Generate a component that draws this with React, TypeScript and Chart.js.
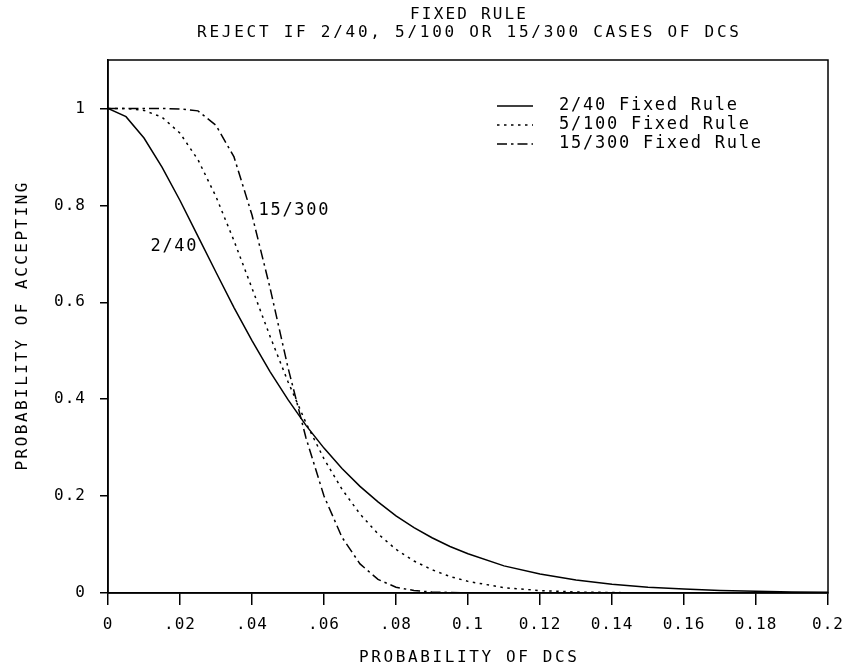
import React, { useEffect, useRef } from "react";
import { Chart, registerables } from "chart.js";

Chart.register(...registerables);

// ---- data ----
const pDcs = [
  0, 0.005, 0.01, 0.015, 0.02, 0.025, 0.03, 0.035, 0.04, 0.045, 0.05, 0.055, 0.06,
  0.065, 0.07, 0.075, 0.08, 0.085, 0.09, 0.095, 0.1, 0.11, 0.12, 0.13, 0.14, 0.15,
  0.16, 0.17, 0.18, 0.19, 0.2,
];
const accept2of40 = [
  1, 0.983, 0.939, 0.879, 0.81, 0.736, 0.662, 0.589, 0.521, 0.457, 0.399, 0.346, 0.299,
  0.257, 0.22, 0.188, 0.159, 0.135, 0.114, 0.096, 0.081, 0.056, 0.039, 0.027, 0.018,
  0.012, 0.008, 0.005, 0.0035, 0.002, 0.0015,
];
const accept5of100 = [
  1, 1, 0.996, 0.982, 0.949, 0.894, 0.818, 0.727, 0.629, 0.53, 0.436, 0.351, 0.277,
  0.214, 0.163, 0.122, 0.09, 0.066, 0.048, 0.034, 0.024, 0.011, 0.005, 0.002, 0.001,
  0, 0, 0, 0, 0, 0,
];
const accept15of300 = [
  1, 1, 1, 1, 0.999, 0.995, 0.965, 0.9, 0.78, 0.63, 0.465, 0.32, 0.2, 0.115, 0.06,
  0.028, 0.012, 0.005, 0.002, 0.001, 0, 0, 0, 0, 0, 0, 0, 0, 0, 0, 0,
];
const seriesNames = ["2/40 Fixed Rule", "5/100 Fixed Rule", "15/300 Fixed Rule"];
const curveTags = ["2/40", "15/300"];
const xTickLabels = [
  "0", ".02", ".04", ".06", ".08", "0.1", "0.12", "0.14", "0.16", "0.18", "0.2",
];
const yTickLabels = ["0", "0.2", "0.4", "0.6", "0.8", "1"];
const titleLines = ["FIXED RULE", "REJECT IF 2/40, 5/100 OR 15/300 CASES OF DCS"];
const xAxisTitle = "PROBABILITY OF DCS";
const yAxisTitle = "PROBABILITY OF ACCEPTING";

// ---- styles ----
const MONO = "'DejaVu Sans Mono', 'Liberation Mono', monospace";
const dashes: number[][] = [[], [2.5, 4.5], [10, 4, 2.5, 4]];

function spacedText(
  ctx: CanvasRenderingContext2D,
  text: string,
  cx: number,
  cy: number,
  width: number,
  font: string,
  align: "center" | "left" = "center"
) {
  ctx.save();
  ctx.font = font;
  (ctx as any).letterSpacing = "0px";
  const natural = ctx.measureText(text).width;
  const sp = text.length > 1 ? (width - natural) / (text.length - 1) : 0;
  (ctx as any).letterSpacing = sp + "px";
  ctx.textAlign = "left";
  ctx.textBaseline = "middle";
  ctx.fillStyle = "#000";
  const x0 = align === "center" ? cx - width / 2 : cx;
  ctx.fillText(text, x0, cy);
  ctx.restore();
}

const overlayPlugin = {
  id: "overlay",
  beforeDraw(chart: any) {
    (chart.ctx as any).letterSpacing = "1px";
  },
  afterDraw(chart: any) {
    const ctx: CanvasRenderingContext2D = chart.ctx;
    const a = chart.chartArea;
    const xs = chart.scales.x;
    const ys = chart.scales.y;
    ctx.save();
    ctx.strokeStyle = "#000";
    ctx.lineWidth = 1.5;
    ctx.setLineDash([]);
    ctx.strokeRect(a.left, a.top, a.right - a.left, a.bottom - a.top);

    // titles
    const cx = (a.left + a.right) / 2;
    spacedText(ctx, titleLines[0], cx, 15, 116, `16px ${MONO}`);
    spacedText(ctx, titleLines[1], cx, 33, 542, `16px ${MONO}`);
    spacedText(ctx, xAxisTitle, cx, 658, 218, `16px ${MONO}`);
    ctx.save();
    ctx.translate(23, (a.top + a.bottom) / 2);
    ctx.rotate(-Math.PI / 2);
    spacedText(ctx, yAxisTitle, 0, 0, 288, `16px ${MONO}`);
    ctx.restore();

    // legend
    const rowY = [106, 125, 144];
    chart.data.datasets.forEach((ds: any, i: number) => {
      ctx.save();
      ctx.strokeStyle = "#000";
      ctx.lineWidth = 1.5;
      ctx.setLineDash(ds.borderDash || []);
      ctx.beginPath();
      ctx.moveTo(497, rowY[i]);
      ctx.lineTo(533, rowY[i]);
      ctx.stroke();
      ctx.restore();
      spacedText(ctx, ds.label, 559, rowY[i], ds.label.length * 12 - 2, `17px ${MONO}`, "left");
    });

    // curve tags placed in data coordinates
    spacedText(ctx, curveTags[0], xs.getPixelForValue(0.0182), ys.getPixelForValue(0.715), 46, `17px ${MONO}`);
    spacedText(ctx, curveTags[1], xs.getPixelForValue(0.0418), ys.getPixelForValue(0.79), 70, `17px ${MONO}`, "left");
    ctx.restore();
  },
};

export default function App() {
  const ref = useRef<HTMLCanvasElement>(null);
  useEffect(() => {
    document.body.style.margin = "0";
    const series = [accept2of40, accept5of100, accept15of300];
    const chart = new Chart(ref.current!, {
      type: "line",
      data: {
        datasets: series.map((vals, i) => ({
          label: seriesNames[i],
          data: pDcs.map((p, k) => ({ x: p, y: vals[k] })),
          borderColor: "#000",
          borderWidth: 1.5,
          borderDash: dashes[i],
          pointRadius: 0,
          tension: 0,
          fill: false,
        })),
      },
      options: {
        animation: false,
        responsive: false,
        devicePixelRatio: 1,
        layout: { padding: { top: 60, right: 21, left: 0, bottom: 0 } },
        plugins: { legend: { display: false }, title: { display: false }, tooltip: { enabled: false } },
        scales: {
          x: {
            type: "linear",
            min: 0,
            max: 0.2,
            ticks: {
              stepSize: 0.02,
              autoSkip: false,
              maxRotation: 0,
              padding: 10,
              color: "#000",
              font: { family: MONO, size: 16 },
              callback: (v: any) => xTickLabels[Math.round(Number(v) * 50)] ?? "",
            },
            grid: { drawOnChartArea: false, drawTicks: true, tickLength: 12, color: "#000", lineWidth: 1.5 },
            border: { color: "#000", width: 1.5 },
            afterFit: (s: any) => {
              s.height = 78;
              s.paddingLeft = 0;
              s.paddingRight = 0;
            },
          },
          y: {
            type: "linear",
            min: 0,
            max: 1.1,
            ticks: {
              stepSize: 0.2,
              includeBounds: false,
              padding: 14,
              color: "#000",
              font: { family: MONO, size: 16 },
              callback: (v: any) => yTickLabels[Math.round(Number(v) * 5)] ?? "",
            },
            grid: { drawOnChartArea: false, drawTicks: true, tickLength: 8, color: "#000", lineWidth: 1.5 },
            border: { color: "#000", width: 1.5 },
            afterFit: (s: any) => {
              s.width = 108;
              s.paddingTop = 0;
              s.paddingBottom = 0;
            },
          },
        },
      } as any,
      plugins: [overlayPlugin],
    });
    return () => chart.destroy();
  }, []);
  return (
    <div style={{ width: 849, height: 671 }}>
      <canvas ref={ref} width={849} height={671} style={{ display: "block" }} />
    </div>
  );
}
